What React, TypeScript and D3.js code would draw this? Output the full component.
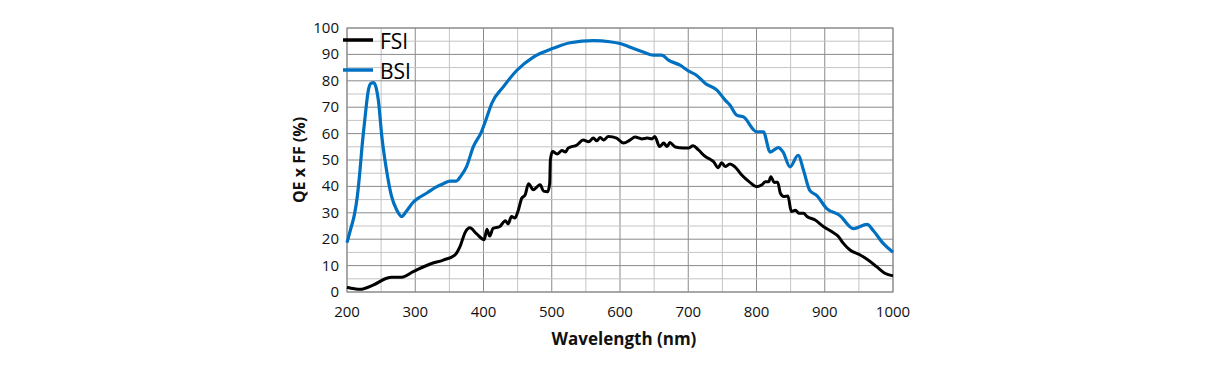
import * as d3 from 'd3'

const fsiWl = [200, 219, 239, 258, 265, 280, 297, 322, 341, 358, 366, 373, 380, 390, 401, 405, 409, 414, 424, 432, 436, 441, 446, 451, 456, 461, 466, 473, 479, 483, 488, 494, 497, 498, 501, 508, 515, 520, 524, 537, 546, 554, 561, 566, 571, 576, 583, 595, 605, 615, 622, 632, 640, 647, 651, 658, 664, 669, 673, 681, 693, 700, 707, 715, 725, 732, 737, 744, 749, 754, 761, 768, 778, 790, 800, 808, 813, 818, 821, 826, 831, 835, 840, 846, 851, 857, 862, 869, 874, 886, 898, 910, 920, 927, 937, 952, 962, 976, 988, 1000]
const fsiQe = [1.8, 1.0, 2.7, 5.2, 5.6, 5.6, 7.7, 10.6, 12.1, 14, 17.5, 22.5, 24.3, 22.0, 19.8, 23.8, 21.2, 24.1, 24.8, 27, 25.8, 28.6, 28, 31, 35.5, 36.8, 41, 38.7, 40, 40.6, 38.2, 38, 41.2, 50, 53.2, 52.3, 53.6, 53, 54.5, 55.7, 57.6, 56.9, 58.3, 57.3, 58.5, 57.6, 58.9, 58.3, 56.4, 57.6, 58.7, 58, 58.3, 58, 58.9, 55.1, 56.4, 55.1, 56.6, 54.9, 54.5, 54.5, 55.4, 53.8, 51.3, 50.3, 49.4, 47.1, 49, 47.5, 48.5, 47.5, 44.4, 41.6, 39.9, 40.6, 41.8, 41.8, 43.7, 41.5, 41.6, 37.4, 36.2, 36.4, 30.5, 31, 29.8, 29.8, 28.6, 27.3, 24.8, 22.9, 21, 18.5, 15.9, 14, 12.4, 9.6, 7.1, 6.1]

const bsiWl = [200, 205, 211, 215, 219, 222, 226, 231, 235, 239, 243, 246, 251, 258, 265, 273, 280, 287, 297, 307, 317, 331, 341, 351, 360, 367, 375, 385, 397, 405, 412, 429, 449, 473, 502, 527, 561, 585, 600, 620, 634, 649, 661, 671, 688, 700, 712, 725, 742, 754, 761, 771, 781, 800, 810, 820, 832, 839, 849, 861, 869, 878, 888, 903, 922, 942, 962, 971, 986, 1000]
const bsiQe = [18.7, 23.5, 29.5, 36, 46, 55, 65, 76, 79, 79.3, 77, 72.5, 59, 46, 36.5, 31, 28.6, 30.6, 34, 36, 37.5, 39.8, 41, 42, 42, 44, 47.4, 55, 60.7, 66.3, 71.4, 77.7, 84, 89, 92.3, 94.4, 95.2, 94.8, 94.1, 92.2, 90.9, 89.7, 89.7, 87.8, 85.9, 83.8, 82.1, 79, 76.5, 72.7, 70.8, 67, 66.3, 60.7, 60.7, 53, 54.7, 53, 47.4, 51.8, 46, 38.5, 36.6, 31.6, 29, 24, 25.6, 23.3, 18.3, 15.1]

const xTicks = [200, 300, 400, 500, 600, 700, 800, 900, 1000]
const yTicks = [0, 10, 20, 30, 40, 50, 60, 70, 80, 90, 100]

const W = 1231
const H = 385
const left = 347
const right = 893
const top = 28
const bottom = 292
const font = '"Open Sans", "Noto Sans", sans-serif'

export default function App() {
  const x = d3.scaleLinear([200, 1000], [left, right])
  const y = d3.scaleLinear([0, 100], [bottom, top])
  const line = d3
    .line<[number, number]>()
    .x((d) => x(d[0]))
    .y((d) => y(d[1]))
    .curve(d3.curveMonotoneX)
  const fsi = fsiWl.map((w, i) => [w, fsiQe[i]] as [number, number])
  const bsi = bsiWl.map((w, i) => [w, bsiQe[i]] as [number, number])
  const vGrid = d3.range(200, 1001, 50)
  const hGrid = d3.range(0, 101, 5)
  return (
    <svg
      width={W}
      height={H}
      style={{ position: 'absolute', left: 0, top: 0, background: '#fff' }}
      fontFamily={font}
    >
      {vGrid.map((v) => (
        <line
          key={'v' + v}
          x1={x(v)}
          x2={x(v)}
          y1={top}
          y2={bottom}
          stroke={v % 100 === 0 ? '#8a8a8a' : '#c4c4c4'}
          strokeWidth={1}
        />
      ))}
      {hGrid.map((v) => (
        <line
          key={'h' + v}
          x1={left}
          x2={right}
          y1={y(v)}
          y2={y(v)}
          stroke={v % 10 === 0 ? '#8a8a8a' : '#c4c4c4'}
          strokeWidth={1}
        />
      ))}
      <rect x={left} y={top} width={right - left} height={bottom - top} fill="none" stroke="#8a8a8a" />
      {yTicks.map((t) => (
        <text key={'yt' + t} x={left - 8} y={y(t) + 5} textAnchor="end" fontSize={15} fill="#111">
          {t}
        </text>
      ))}
      {xTicks.map((t) => (
        <text key={'xt' + t} x={x(t)} y={317} textAnchor="middle" fontSize={15} fill="#111">
          {t}
        </text>
      ))}
      <text x={624} y={345} textAnchor="middle" fontSize={17} fontWeight="bold" fill="#111">
        Wavelength (nm)
      </text>
      <text
        transform={`translate(305, ${(top + bottom) / 2}) rotate(-90)`}
        textAnchor="middle"
        fontSize={16}
        fontWeight="bold"
        fill="#111"
      >
        QE x FF (%)
      </text>
      <path d={line(fsi) || undefined} fill="none" stroke="#000" strokeWidth={3} strokeLinejoin="round" />
      <path d={line(bsi) || undefined} fill="none" stroke="#0070c0" strokeWidth={3.2} strokeLinejoin="round" />
      <line x1={343} x2={373} y1={40} y2={40} stroke="#000" strokeWidth={3.5} />
      <text x={380} y={49} fontSize={21} fill="#000">
        FSI
      </text>
      <line x1={343} x2={373} y1={70} y2={70} stroke="#0070c0" strokeWidth={3.5} />
      <text x={380} y={79} fontSize={21} fill="#000">
        BSI
      </text>
    </svg>
  )
}
